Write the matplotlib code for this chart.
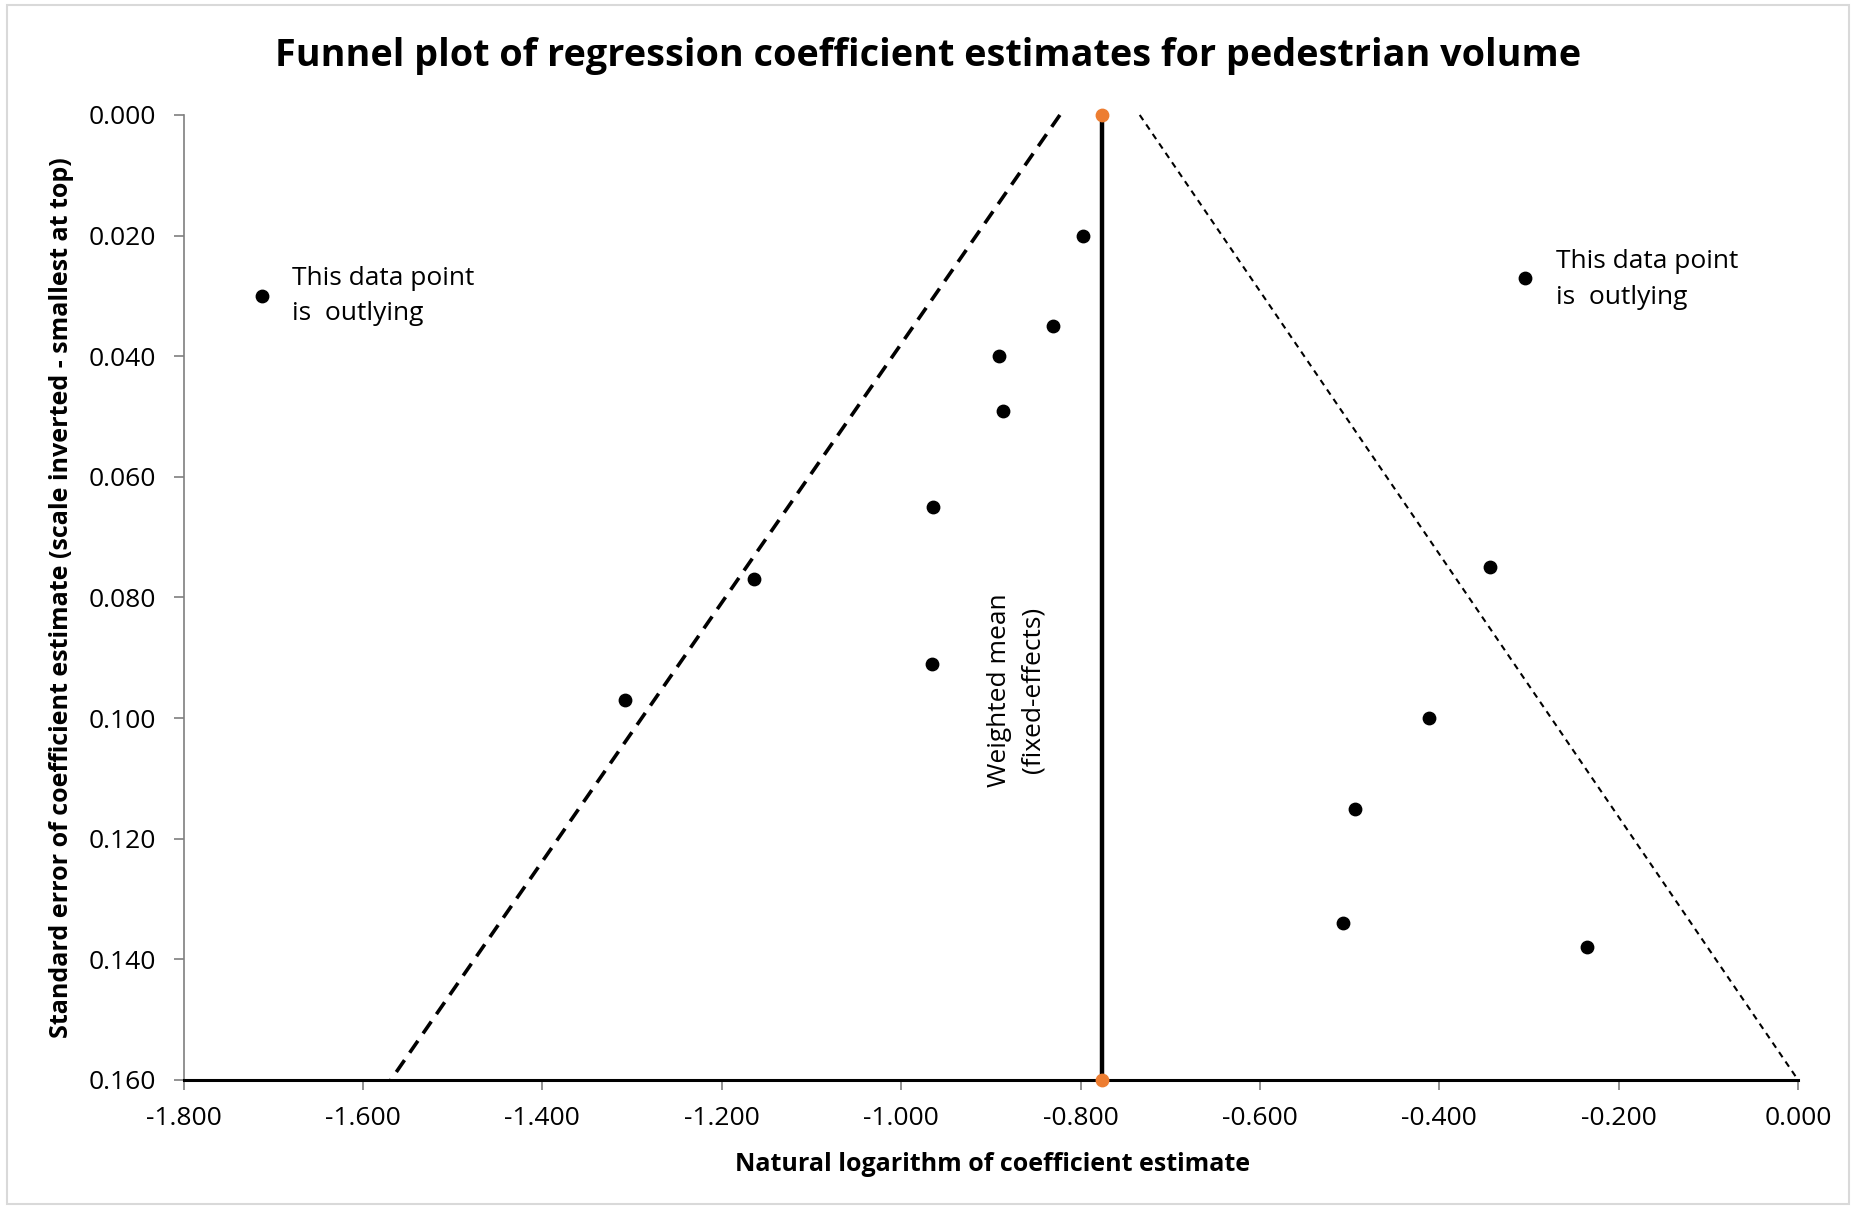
import matplotlib
matplotlib.use("Agg")
import matplotlib.pyplot as plt
from matplotlib.patches import Rectangle

plt.rcParams['font.family'] = ['Open Sans', 'DejaVu Sans']

# Data
log_coef = [-1.713, -0.797, -0.831, -0.891, -0.886, -0.965, -1.164, -0.966, -1.308,
            -0.304, -0.344, -0.412, -0.494, -0.507, -0.235]
std_err = [0.030, 0.020, 0.035, 0.040, 0.049, 0.065, 0.077, 0.091, 0.097,
           0.027, 0.075, 0.100, 0.115, 0.134, 0.138]
weighted_mean = -0.776
mean_line_se = [0.000, 0.160]
left_funnel_x = [-0.823, -1.569]
right_funnel_x = [-0.734, 0.000]
funnel_se = [0.000, 0.160]
x_ticks = [-1.8, -1.6, -1.4, -1.2, -1.0, -0.8, -0.6, -0.4, -0.2, 0.0]
y_ticks = [0.0, 0.02, 0.04, 0.06, 0.08, 0.10, 0.12, 0.14, 0.16]

fig = plt.figure(figsize=(18.56, 12.09), dpi=100)
ax = fig.add_axes([0.0989, 0.1067, 0.9688 - 0.0989, 0.9049 - 0.1067])

# border of chart area
fig.patches.append(Rectangle((0.004, 0.004), 0.992, 0.992, transform=fig.transFigure,
                             fill=False, edgecolor='#d9d9d9', linewidth=1.5))

ax.plot(left_funnel_x, funnel_se, color='black', linestyle=(0, (4, 2.5)), linewidth=2.6,
        clip_on=False, zorder=2)
ax.plot(right_funnel_x, funnel_se, color='black', linestyle=(0, (3, 2.5)), linewidth=1.5,
        clip_on=False, zorder=2)
ax.plot([weighted_mean, weighted_mean], mean_line_se, color='black', linewidth=3.2,
        solid_capstyle='butt', zorder=3)
ax.scatter([weighted_mean, weighted_mean], mean_line_se, s=80, color='#ED7D31',
           zorder=4, clip_on=False)
ax.scatter(log_coef, std_err, s=80, color='black', zorder=5, clip_on=False)

ax.set_xlim(-1.8, 0.0)
ax.set_ylim(0.16, 0.0)
ax.set_xticks(x_ticks)
ax.set_yticks(y_ticks)
ax.set_xticklabels([f"{v:.3f}" for v in x_ticks])
ax.set_yticklabels([f"{v:.3f}" for v in y_ticks])

for s in ['top', 'right']:
    ax.spines[s].set_visible(False)
ax.spines['left'].set_color('#7f7f7f')
ax.spines['left'].set_linewidth(1.2)
ax.spines['bottom'].set_color('black')
ax.spines['bottom'].set_linewidth(2.2)
ax.tick_params(axis='y', direction='out', length=7, width=1.2, color='#7f7f7f',
               labelsize=19, pad=13)
ax.tick_params(axis='x', direction='out', length=7, width=1.2, color='#7f7f7f',
               labelsize=19, pad=12)

ax.set_xlabel("Natural logarithm of coefficient estimate", fontsize=18, fontweight='bold')
ax.set_ylabel("Standard error of coefficient estimate (scale inverted - smallest at top)",
              fontsize=18, fontweight='bold')
ax.xaxis.set_label_coords(0.5008, -0.088)
ax.xaxis.label.set_va('center')
ax.yaxis.set_label_coords(-0.0756, 0.5)
ax.yaxis.label.set_va('center')
fig.suptitle("Funnel plot of regression coefficient estimates for pedestrian volume",
             fontsize=27.2, fontweight='bold', x=0.5, y=0.954, va='center')

ax.text(-1.679, 0.0300, "This data point\nis  outlying", fontsize=19, ha='left',
        va='center', linespacing=1.55)
ax.text(-0.270, 0.0273, "This data point\nis  outlying", fontsize=19, ha='left',
        va='center', linespacing=1.55)
ax.text(-0.872, 0.0954, "Weighted mean\n(fixed-effects)", fontsize=19, ha='center',
        va='center', rotation=90, linespacing=1.45)

fig.savefig("out.png", dpi=100)
